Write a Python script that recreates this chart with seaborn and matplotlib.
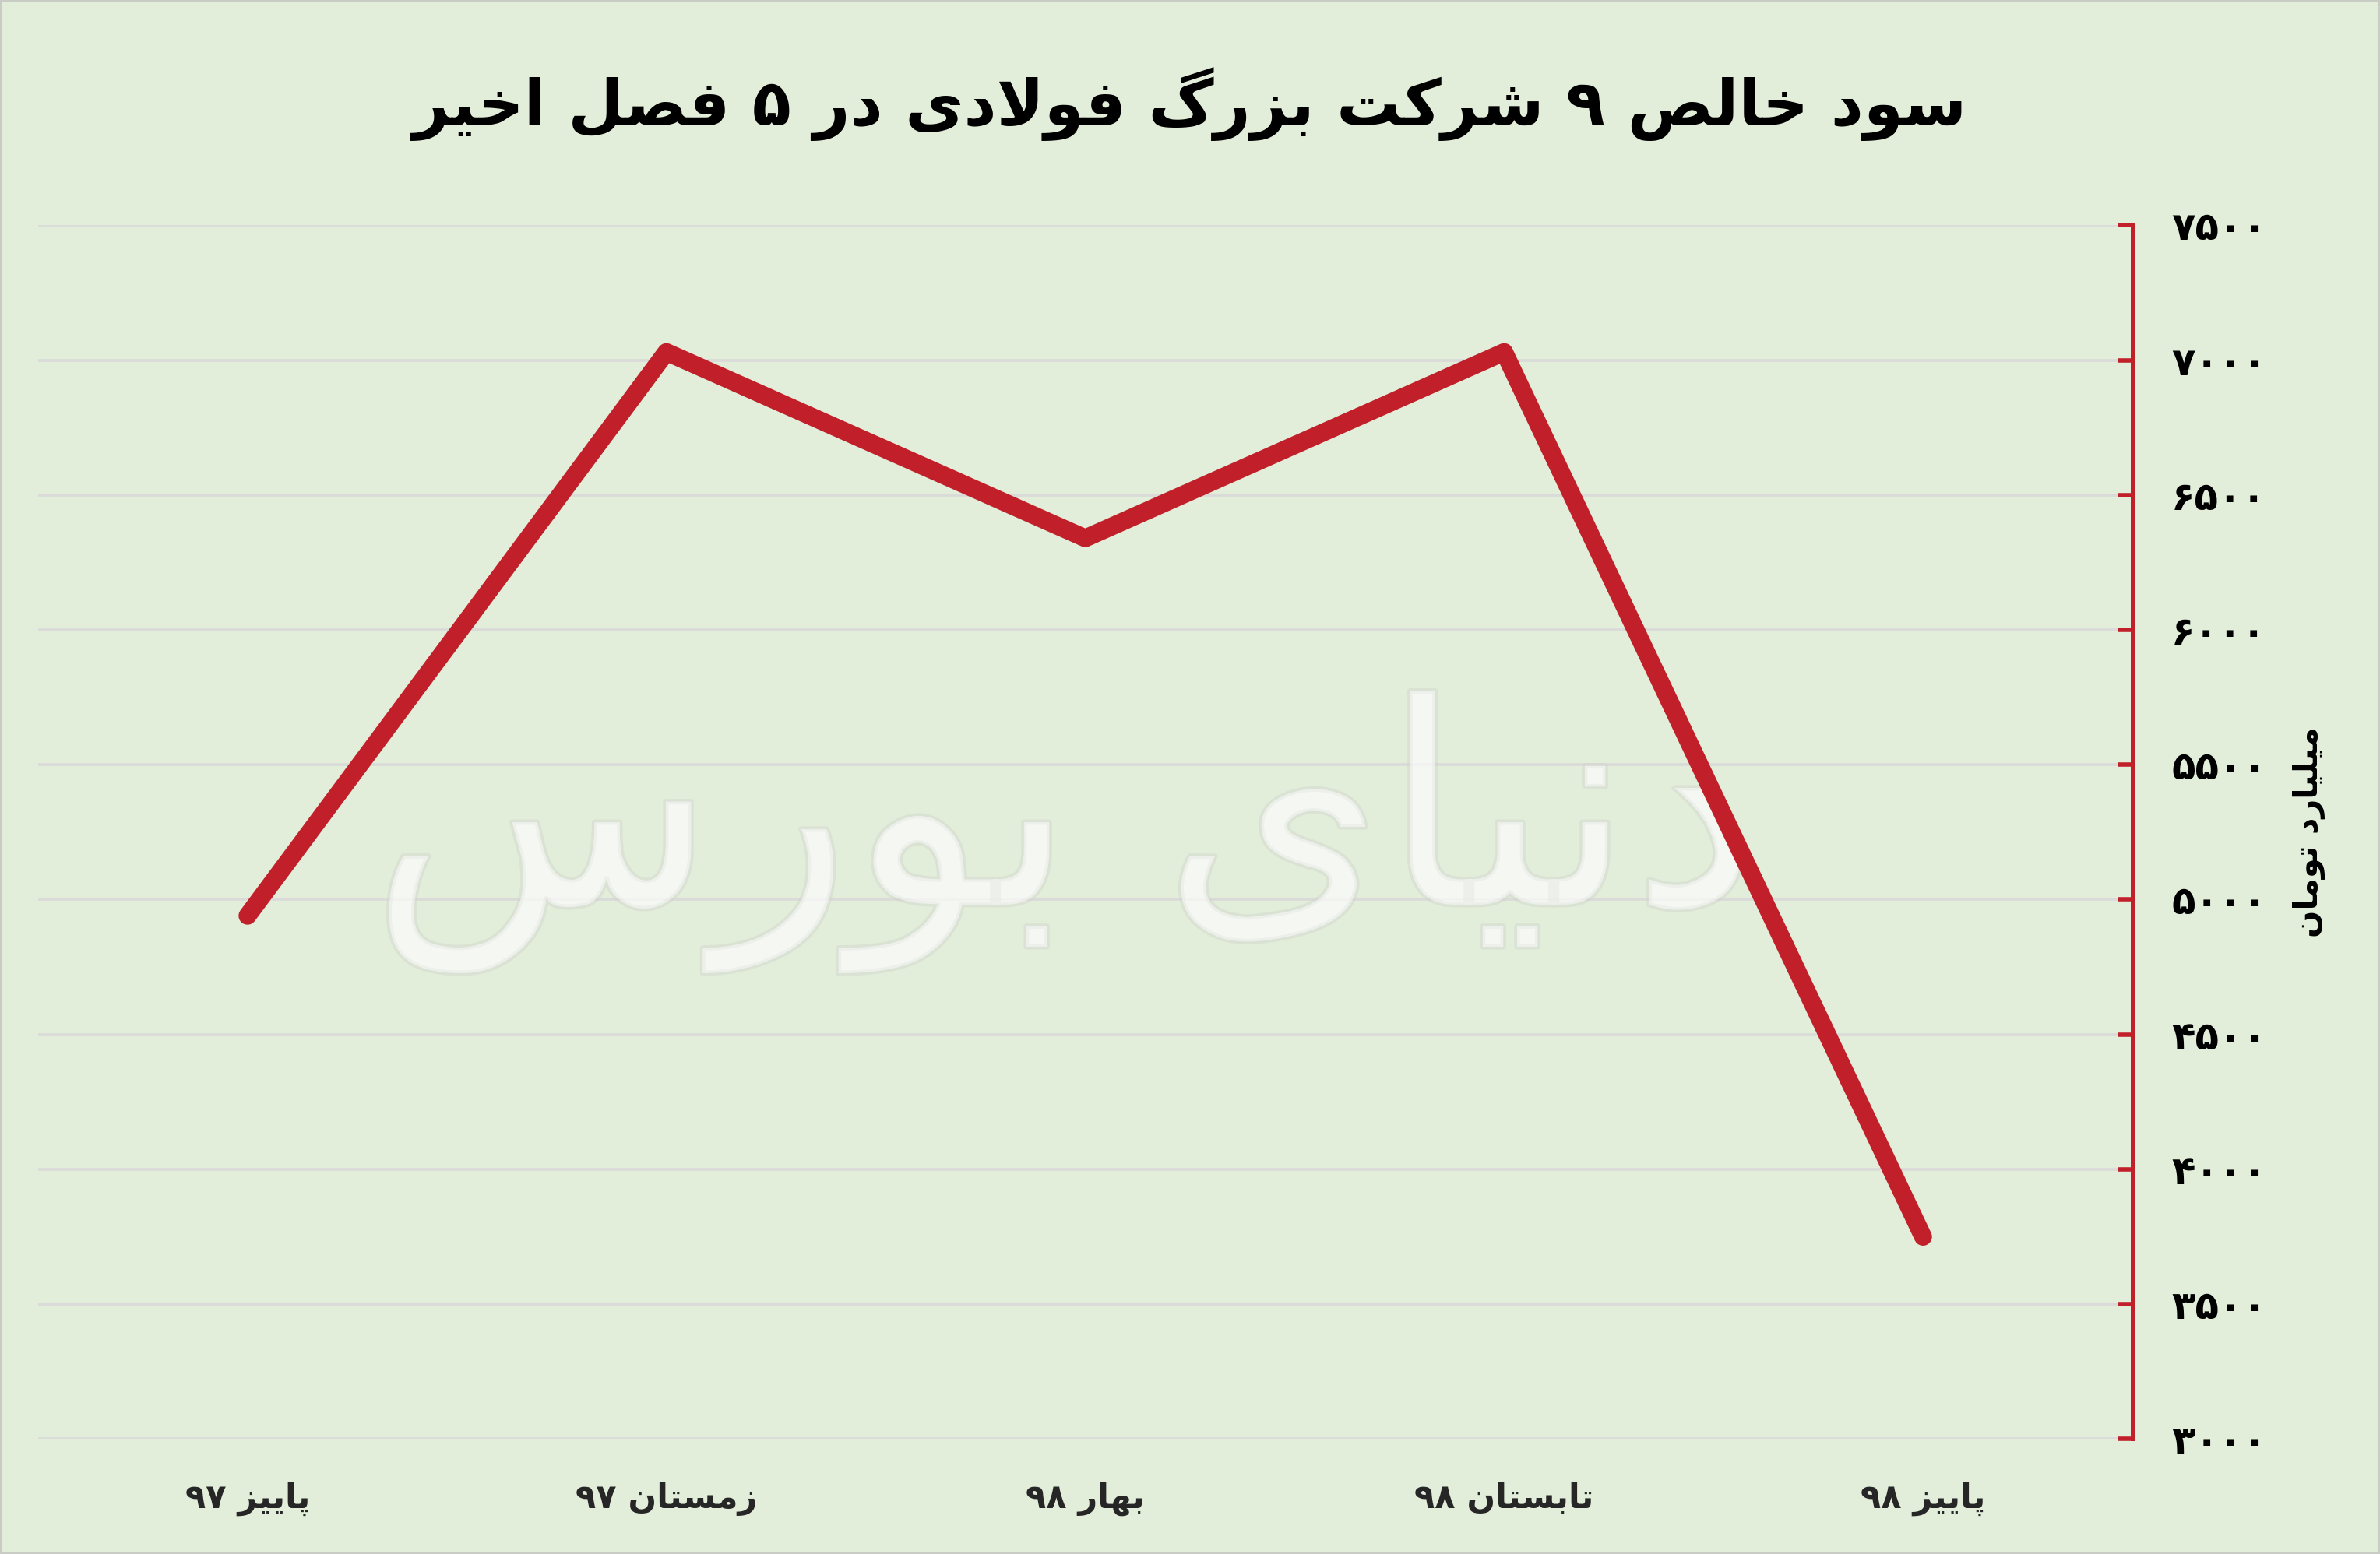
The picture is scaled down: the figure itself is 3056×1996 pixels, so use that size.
import pandas as pd
import matplotlib.pyplot as plt
import matplotlib.patheffects as pe
import seaborn as sns
from matplotlib.ticker import FuncFormatter

# -----------------------------
# Data
# -----------------------------
title = "سود خالص ۹ شرکت بزرگ فولادی در ۵ فصل اخیر"
y_label = "میلیارد تومان"
seasons = ["پاییز ۹۷", "زمستان ۹۷", "بهار ۹۸", "تابستان ۹۸", "پاییز ۹۸"]
profit = [4940, 7030, 6340, 7030, 3750]
y_ticks = [3000, 3500, 4000, 4500, 5000, 5500, 6000, 6500, 7000, 7500]
watermark = "دنیای بورس"

# -----------------------------
# Minimal Persian shaping (matplotlib has no Arabic shaping)
# -----------------------------
# forms: isolated, final, initial, medial
FORMS = {
    'ا': ('\uFE8D', '\uFE8E', None, None),
    'آ': ('\uFE81', '\uFE82', None, None),
    'ب': ('\uFE8F', '\uFE90', '\uFE91', '\uFE92'),
    'پ': ('\uFB56', '\uFB57', '\uFB58', '\uFB59'),
    'ت': ('\uFE95', '\uFE96', '\uFE97', '\uFE98'),
    'ث': ('\uFE99', '\uFE9A', '\uFE9B', '\uFE9C'),
    'ج': ('\uFE9D', '\uFE9E', '\uFE9F', '\uFEA0'),
    'چ': ('\uFB7A', '\uFB7B', '\uFB7C', '\uFB7D'),
    'ح': ('\uFEA1', '\uFEA2', '\uFEA3', '\uFEA4'),
    'خ': ('\uFEA5', '\uFEA6', '\uFEA7', '\uFEA8'),
    'د': ('\uFEA9', '\uFEAA', None, None),
    'ذ': ('\uFEAB', '\uFEAC', None, None),
    'ر': ('\uFEAD', '\uFEAE', None, None),
    'ز': ('\uFEAF', '\uFEB0', None, None),
    'ژ': ('\uFB8A', '\uFB8B', None, None),
    'س': ('\uFEB1', '\uFEB2', '\uFEB3', '\uFEB4'),
    'ش': ('\uFEB5', '\uFEB6', '\uFEB7', '\uFEB8'),
    'ص': ('\uFEB9', '\uFEBA', '\uFEBB', '\uFEBC'),
    'ض': ('\uFEBD', '\uFEBE', '\uFEBF', '\uFEC0'),
    'ط': ('\uFEC1', '\uFEC2', '\uFEC3', '\uFEC4'),
    'ظ': ('\uFEC5', '\uFEC6', '\uFEC7', '\uFEC8'),
    'ع': ('\uFEC9', '\uFECA', '\uFECB', '\uFECC'),
    'غ': ('\uFECD', '\uFECE', '\uFECF', '\uFED0'),
    'ف': ('\uFED1', '\uFED2', '\uFED3', '\uFED4'),
    'ق': ('\uFED5', '\uFED6', '\uFED7', '\uFED8'),
    'ک': ('\uFB8E', '\uFB8F', '\uFB90', '\uFB91'),
    'گ': ('\uFB92', '\uFB93', '\uFB94', '\uFB95'),
    'ل': ('\uFEDD', '\uFEDE', '\uFEDF', '\uFEE0'),
    'م': ('\uFEE1', '\uFEE2', '\uFEE3', '\uFEE4'),
    'ن': ('\uFEE5', '\uFEE6', '\uFEE7', '\uFEE8'),
    'و': ('\uFEED', '\uFEEE', None, None),
    'ه': ('\uFEE9', '\uFEEA', '\uFEEB', '\uFEEC'),
    'ی': ('\uFBFC', '\uFBFD', '\uFBFE', '\uFBFF'),
}
DIGITS = set("۰۱۲۳۴۵۶۷۸۹0123456789")


def shape(text):
    chars = list(text)
    out = []
    i = 0
    while i < len(chars):
        c = chars[i]
        if c not in FORMS:
            out.append(c)
            i += 1
            continue
        prev = chars[i - 1] if i > 0 else None
        joins_prev = prev in FORMS and FORMS[prev][2] is not None
        # lam-alef ligature
        if c == 'ل' and i + 1 < len(chars) and chars[i + 1] == 'ا':
            out.append('\uFEFC' if joins_prev else '\uFEFB')
            i += 2
            continue
        nxt = chars[i + 1] if i + 1 < len(chars) else None
        joins_next = nxt in FORMS and FORMS[c][2] is not None
        iso, fin, ini, med = FORMS[c]
        if joins_prev and joins_next:
            out.append(med)
        elif joins_prev:
            out.append(fin)
        elif joins_next:
            out.append(ini)
        else:
            out.append(iso)
        i += 1
    # visual order: reverse, but keep digit runs left-to-right
    runs = []
    for ch in out:
        is_d = ch in DIGITS
        if runs and runs[-1][0] == is_d:
            runs[-1][1].append(ch)
        else:
            runs.append([is_d, [ch]])
    vis = ""
    for is_d, rc in reversed(runs):
        vis += "".join(rc) if is_d else "".join(reversed(rc))
    return vis


def fa_digits(n):
    return str(n).translate(str.maketrans("0123456789", "۰۱۲۳۴۵۶۷۸۹"))


# -----------------------------
# Plot
# -----------------------------
bg = '#E2EDDA'
red = '#C1202A'

sns.set_theme(style='white')
plt.rcParams['font.family'] = ['DejaVu Sans']

df = pd.DataFrame({'season': [shape(s) for s in seasons], 'profit': profit})

fig = plt.figure(figsize=(15.28, 9.98), dpi=200, facecolor=bg)
fig.patch.set_edgecolor('#C8CCC4')
fig.patch.set_linewidth(2)
ax = fig.add_axes([0.016, 0.074, 0.880, 0.781])
ax.set_facecolor(bg)

# faint watermark behind the line
ax.text(1.95, 5250, shape(watermark), fontsize=130, color='white', alpha=0.42,
        ha='center', va='center', zorder=1,
        path_effects=[pe.withStroke(linewidth=2.5, foreground='#D0D3CC')])

sns.lineplot(data=df, x='season', y='profit', ax=ax, color=red,
             linewidth=8.3, sort=False, zorder=3)
ax.lines[0].set_solid_capstyle('round')
ax.lines[0].set_solid_joinstyle('round')

ax.set_xlim(-0.5, 4.5)
ax.set_ylim(3000, 7500)
ax.set_yticks(y_ticks)
ax.yaxis.set_major_formatter(FuncFormatter(lambda v, p: fa_digits(int(v))))
ax.yaxis.tick_right()
ax.yaxis.set_label_position('right')
ax.tick_params(axis='y', direction='in', length=6.5, width=2, color=red,
               pad=18, labelsize=18, labelcolor='black')
ax.tick_params(axis='x', length=0, pad=20, labelsize=15.5)
for lab in ax.get_xticklabels():
    lab.set_fontweight('bold')
for lab in ax.get_yticklabels():
    lab.set_fontweight('bold')

ax.grid(axis='y', color='#DADBD8', linewidth=1.3)
ax.grid(axis='x', visible=False)
for side in ['top', 'left', 'bottom']:
    ax.spines[side].set_visible(False)
ax.spines['right'].set_color(red)
ax.spines['right'].set_linewidth(1.8)

ax.set_xlabel('')
ax.set_ylabel(shape(y_label), rotation=90, fontsize=15, fontweight='bold',
              labelpad=12, color='black')

fig.text(0.5, 0.933, shape(title), fontsize=29.5, fontweight='bold',
         ha='center', va='center', color='black')

fig.savefig('out.png', dpi=200, facecolor=bg, edgecolor=fig.patch.get_edgecolor())
